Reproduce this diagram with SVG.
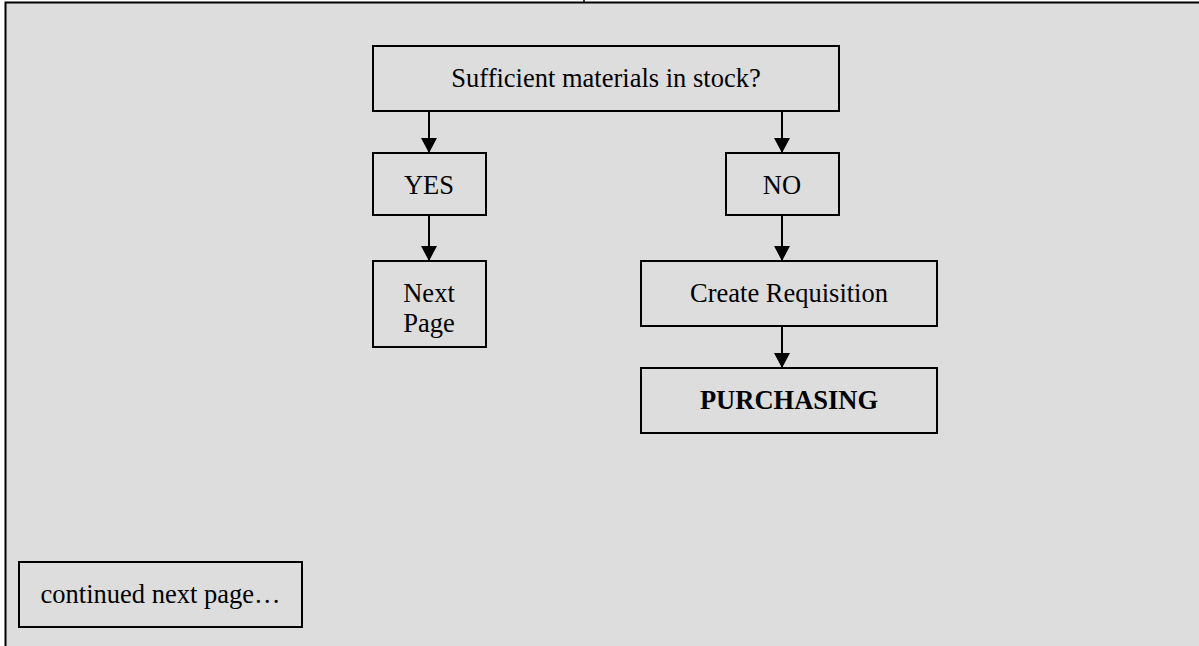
<svg xmlns="http://www.w3.org/2000/svg" width="1199" height="646" viewBox="0 0 1199 646">
<style>
.box{fill:#dddddd;stroke:#000;stroke-width:2}
.t{font-family:"Liberation Serif","Times New Roman",serif;font-size:26.5px;fill:#000;text-anchor:middle}
.b{font-weight:bold}
.c{stroke:#000;stroke-width:2;fill:none}
</style>
<defs>
<marker id="ah" markerUnits="userSpaceOnUse" markerWidth="16" markerHeight="16" refX="15" refY="8" orient="auto" viewBox="0 0 16 16">
<path d="M0,0 L15,8 L0,16 Z" fill="#000"/>
</marker>
</defs>
<rect x="0" y="0" width="1199" height="646" fill="#ffffff"/>
<rect x="5.5" y="2.5" width="1200" height="650" fill="#dddddd" stroke="#000" stroke-width="2"/>
<line x1="584" y1="0" x2="584" y2="3" stroke="#000" stroke-width="1.5"/>
<g id="connectors">
<line class="c" x1="429" y1="111" x2="429" y2="153" marker-end="url(#ah)"/>
<line class="c" x1="782" y1="111" x2="782" y2="153" marker-end="url(#ah)"/>
<line class="c" x1="429" y1="215" x2="429" y2="261" marker-end="url(#ah)"/>
<line class="c" x1="782" y1="215" x2="782" y2="261" marker-end="url(#ah)"/>
<line class="c" x1="782" y1="326" x2="782" y2="368" marker-end="url(#ah)"/>
</g>
<g id="n-stock">
<rect class="box" x="373" y="46" width="466" height="65"/>
<text class="t" x="606" y="87">Sufficient materials in stock?</text>
</g>
<g id="n-yes">
<rect class="box" x="373" y="153" width="113" height="62"/>
<text class="t" x="429" y="194">YES</text>
</g>
<g id="n-no">
<rect class="box" x="726" y="153" width="113" height="62"/>
<text class="t" x="782" y="194">NO</text>
</g>
<g id="n-nextpage">
<rect class="box" x="373" y="261" width="113" height="86"/>
<text class="t" x="429" y="301.5">Next</text>
<text class="t" x="429" y="331.5">Page</text>
</g>
<g id="n-requisition">
<rect class="box" x="641" y="261" width="296" height="65"/>
<text class="t" x="789" y="301.5">Create Requisition</text>
</g>
<g id="n-purchasing">
<rect class="box" x="641" y="368" width="296" height="65"/>
<text class="t b" x="789" y="409">PURCHASING</text>
</g>
<g id="n-continued">
<rect class="box" x="19" y="562" width="283" height="65"/>
<text class="t" x="160.5" y="603">continued next page…</text>
</g>
</svg>
